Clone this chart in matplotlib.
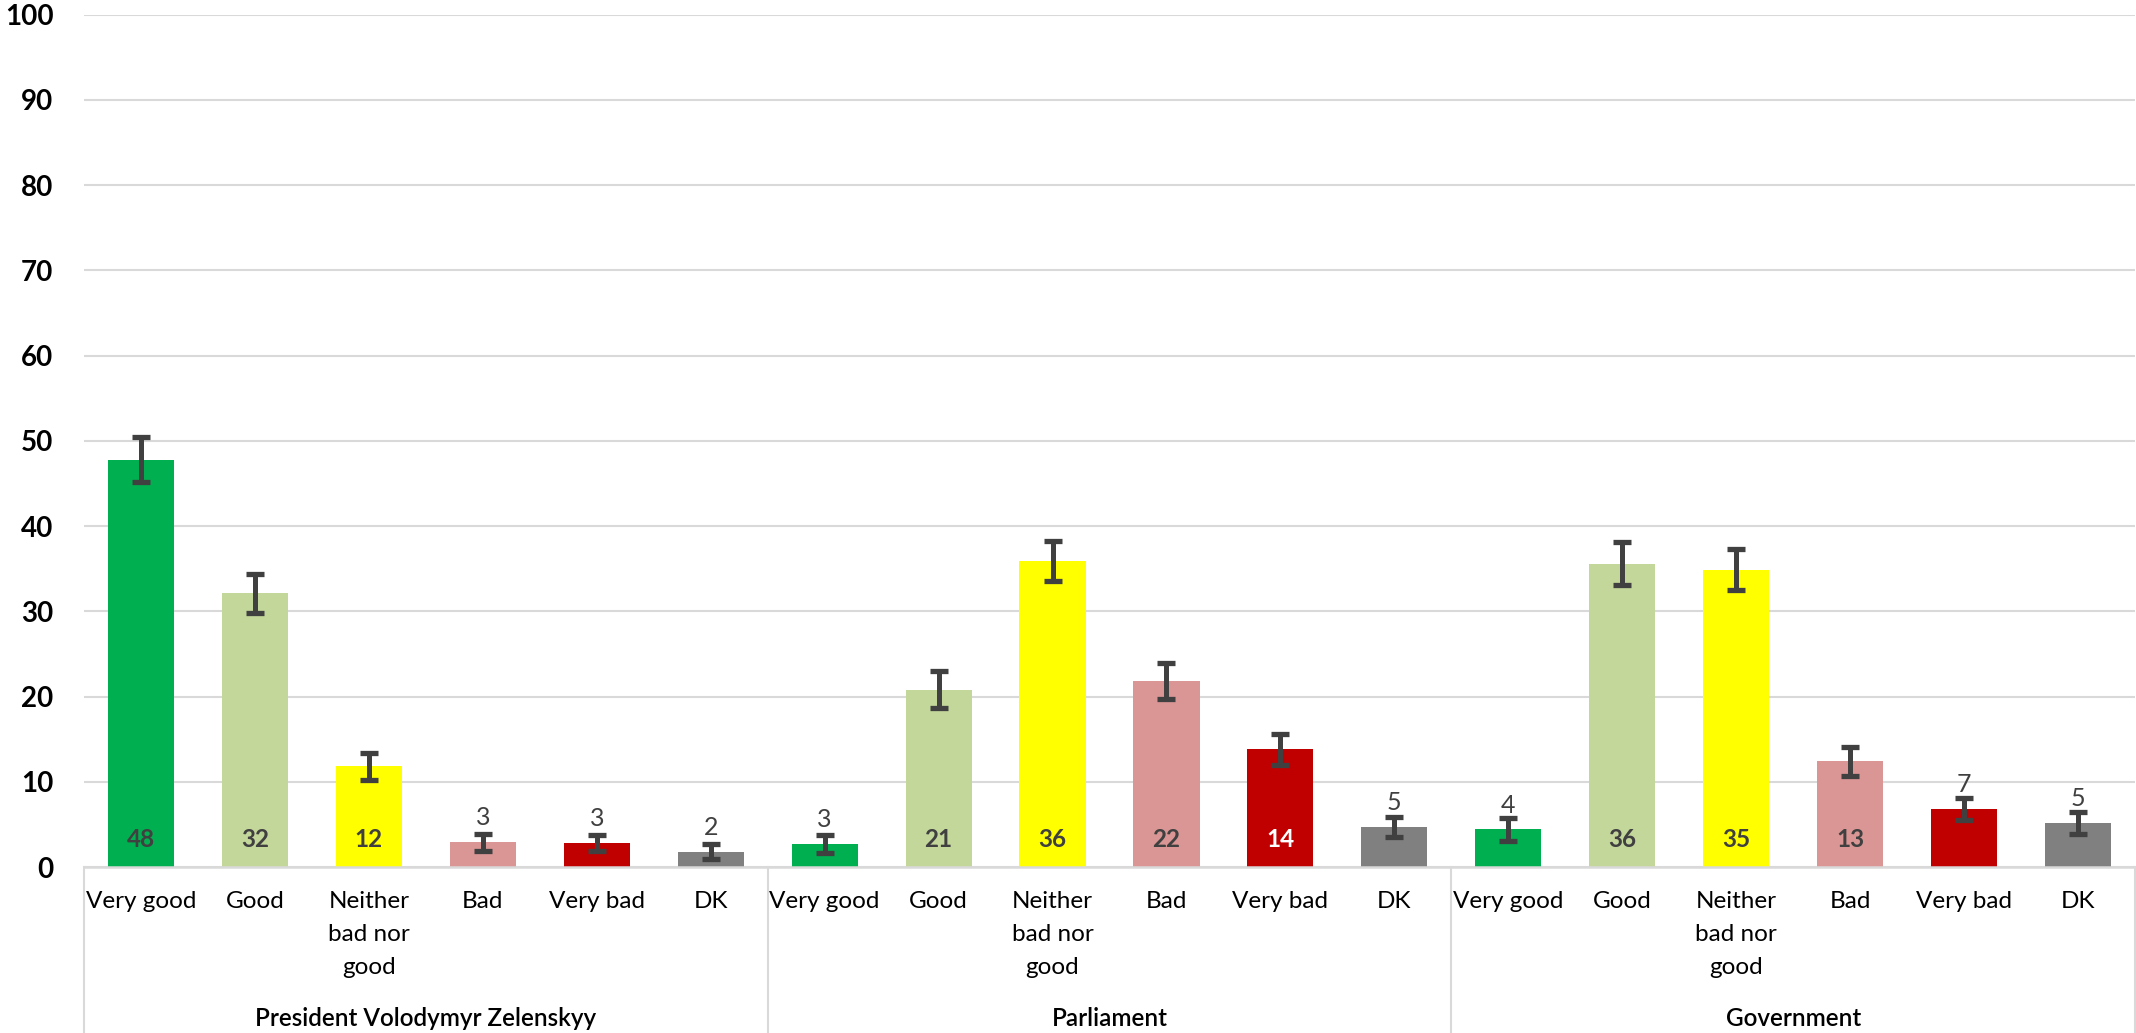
import matplotlib
matplotlib.use("Agg")
import matplotlib.pyplot as plt
import numpy as np

groups = ["President Volodymyr Zelenskyy", "Parliament", "Government"]
categories = ["Very good", "Good", "Neither\nbad nor\ngood", "Bad", "Very bad", "DK"]
zelenskyy = [47.8, 32.1, 11.8, 2.9, 2.8, 1.8]
parliament = [2.7, 20.8, 35.9, 21.8, 13.8, 4.7]
government = [4.4, 35.6, 34.9, 12.4, 6.8, 5.2]
zelenskyy_err = [2.6, 2.3, 1.6, 1.0, 0.9, 0.9]
parliament_err = [1.0, 2.2, 2.4, 2.1, 1.8, 1.2]
government_err = [1.3, 2.5, 2.4, 1.7, 1.3, 1.3]
zelenskyy_labels = [48, 32, 12, 3, 3, 2]
parliament_labels = [3, 21, 36, 22, 14, 5]
government_labels = [4, 36, 35, 13, 7, 5]
colors = ["#00B050", "#C4D79B", "#FFFF00", "#DA9694", "#C00000", "#808080"]
yticks = list(range(0, 101, 10))

plt.rcParams['font.family'] = ['Lato', 'DejaVu Sans']

values = zelenskyy + parliament + government
errs = zelenskyy_err + parliament_err + government_err
labels = zelenskyy_labels + parliament_labels + government_labels
ncat = len(categories)
bar_colors = colors * len(groups)
x = np.arange(len(values))

fig = plt.figure(figsize=(21.36, 10.33), dpi=100)
H = 1033.0
ax = fig.add_axes([84 / 2136, (H - 867) / H, (2135 - 84) / 2136, (867 - 14.7) / H])
axh_px = 867 - 14.7

ax.bar(x, values, width=0.58, color=bar_colors, zorder=2)
ax.errorbar(x, values, yerr=errs, fmt='none', ecolor='#404040', elinewidth=3.6,
            capsize=6.3, capthick=3.8, zorder=3)

ax.set_xlim(-0.5, len(values) - 0.5)
ax.set_ylim(0, 100)
ax.set_yticks(yticks)
ax.set_yticklabels([str(t) for t in yticks], fontsize=20, fontweight='bold', color='black')
ax.tick_params(axis='y', length=0, pad=22)
ax.set_xticks([])
ax.yaxis.grid(True, color='#D9D9D9', linewidth=1.5)
ax.set_axisbelow(True)
for s in ['left', 'right', 'top']:
    ax.spines[s].set_visible(False)
ax.spines['bottom'].set_color('#D9D9D9')
ax.spines['bottom'].set_linewidth(1.8)

# data labels
for i, (v, lab) in enumerate(zip(values, labels)):
    cat = i % ncat
    if lab >= 10:
        col = 'white' if cat == 4 else '#404040'
        ax.text(i, 3.2, str(lab), ha='center', va='center', fontsize=17.5,
                fontweight='bold', color=col, zorder=4)
    else:
        ax.annotate(str(lab), (i, v), xytext=(0, 17.5), textcoords='offset points',
                    ha='center', va='center', fontsize=18, color='#404040', zorder=4)

trans = ax.get_xaxis_transform()
# category labels
line_centers = [901.7, 934.5, 967]
for i in range(len(values)):
    lines = categories[i % ncat].split('\n')
    for j, ln in enumerate(lines):
        y = -(line_centers[j] - 867) / axh_px
        ax.text(i, y, ln, transform=trans, ha='center', va='center', fontsize=17.5,
                color='black', clip_on=False)

# group labels and separators
for g, name in enumerate(groups):
    xc = g * ncat + (ncat - 1) / 2
    ax.text(xc, -(1018 - 867) / axh_px, name, transform=trans, ha='center', va='center',
            fontsize=17.5, fontweight='semibold', color='black', clip_on=False)
for b in range(len(groups) + 1):
    xb = b * ncat - 0.5
    ax.plot([xb, xb], [0, -(1033 - 867) / axh_px], transform=trans, color='#D9D9D9',
            linewidth=1.5, clip_on=False)

fig.savefig('out.png', dpi=100)
